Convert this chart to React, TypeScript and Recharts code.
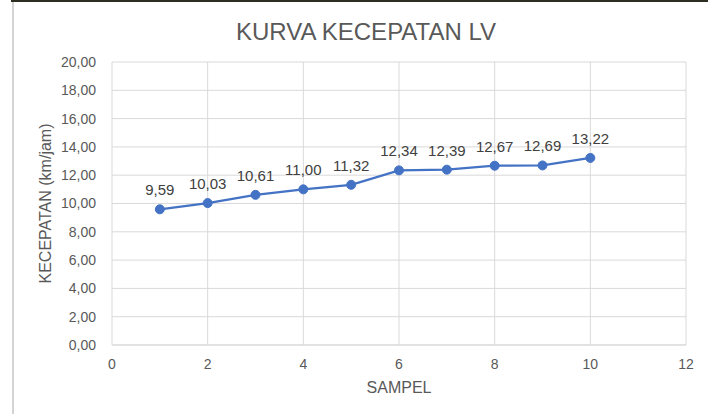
import { LineChart, Line, XAxis, YAxis, CartesianGrid, LabelList } from "recharts";

// data from the reference (Kurva kecepatan LV)
const sampel = [1, 2, 3, 4, 5, 6, 7, 8, 9, 10];
const kecepatan = [9.59, 10.03, 10.61, 11.0, 11.32, 12.34, 12.39, 12.67, 12.69, 13.22];
const xTicks = [0, 2, 4, 6, 8, 10, 12];
const yTicks = [0, 2, 4, 6, 8, 10, 12, 14, 16, 18, 20];

const data = sampel.map((s, i) => ({ sampel: s, kecepatan: kecepatan[i] }));

const fmt = (v: number) => v.toFixed(2).replace(".", ",");
const font = "'Liberation Sans', Arial, sans-serif";
const grey = "#595959";

export default function App() {
  return (
    <div style={{ position: "absolute", left: 0, top: 0, width: 708, height: 414, background: "#fff", fontFamily: font }}>
      {/* frame of the spreadsheet chart */}
      <div style={{ position: "absolute", left: 11, top: 0, width: 697, height: 2, background: "#2e2e22" }} />
      <div style={{ position: "absolute", left: 12, top: 2, width: 2, height: 412, background: "#d4d4d4" }} />
      <div style={{ position: "absolute", left: 0, top: 0 }}>
        <LineChart width={708} height={414} data={data} margin={{ top: 62, right: 22, bottom: 0, left: 0 }}>
          <text x={366} y={31} textAnchor="middle" dominantBaseline="central" fill={grey} fontSize={24} fontFamily={font}>
            KURVA KECEPATAN LV
          </text>
          <CartesianGrid stroke="#d9d9d9" strokeWidth={1} />
          <XAxis
            dataKey="sampel"
            type="number"
            domain={[0, 12]}
            ticks={xTicks}
            height={69}
            axisLine={{ stroke: "#d9d9d9" }}
            tickLine={false}
            tick={{ fill: grey, fontSize: 14, fontFamily: font }}
            tickMargin={8}
            label={{ value: "SAMPEL", position: "insideBottom", offset: 21, fill: grey, fontSize: 16, fontFamily: font }}
          />
          <YAxis
            type="number"
            domain={[0, 20]}
            ticks={yTicks}
            width={112}
            axisLine={false}
            tickLine={false}
            tickFormatter={fmt}
            tick={{ fill: grey, fontSize: 14, fontFamily: font }}
            tickMargin={10}
            label={{
              value: "KECEPATAN (km/jam)",
              angle: -90,
              position: "insideLeft",
              offset: 45,
              fill: grey,
              fontSize: 16,
              fontFamily: font,
              style: { textAnchor: "middle" },
            }}
          />
          <Line
            type="linear"
            dataKey="kecepatan"
            stroke="#4472C4"
            strokeWidth={2.25}
            dot={{ r: 4.5, fill: "#4472C4", stroke: "#4472C4", strokeWidth: 1 }}
            isAnimationActive={false}
          >
            <LabelList
              dataKey="kecepatan"
              position="top"
              offset={14}
              formatter={(v: any) => fmt(Number(v))}
              fill="#404040"
              fontSize={15}
              fontFamily={font}
            />
          </Line>
        </LineChart>
      </div>
    </div>
  );
}
